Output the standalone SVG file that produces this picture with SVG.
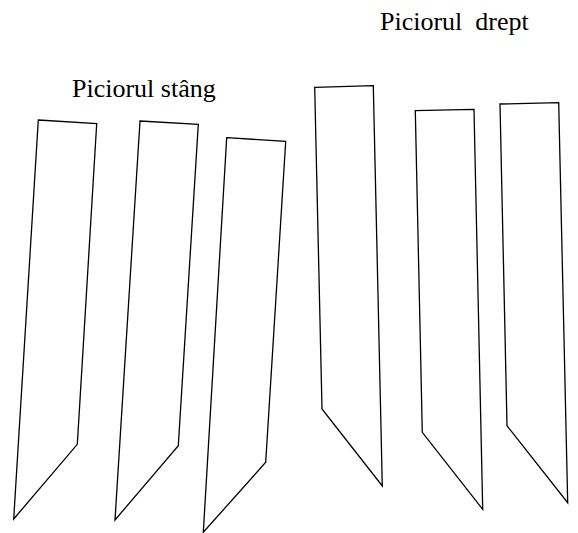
<svg xmlns="http://www.w3.org/2000/svg" width="578" height="533" viewBox="0 0 578 533">
<style>
.leg{fill:#fff;stroke:#000;stroke-width:1.3;stroke-linejoin:miter}
.lbl{font-family:"Liberation Serif","Times New Roman",serif;font-size:26px;fill:#000}
</style>
<rect width="578" height="533" fill="#fff"/>
<g id="label-stang"><text class="lbl" x="72" y="96.5">Piciorul stâng</text></g>
<g id="label-drept"><text class="lbl" x="380" y="29.5" xml:space="preserve">Piciorul  drept</text></g>
<g id="leg1"><polygon class="leg" points="38.3,120 96.7,123.7 77.3,444.3 13.7,519"/></g>
<g id="leg2"><polygon class="leg" points="140,121 198.3,124.3 178.3,445.7 115,520"/></g>
<g id="leg3"><polygon class="leg" points="226.7,137.7 285.7,141.3 265.7,462.3 203.3,532.3"/></g>
<g id="leg4"><polygon class="leg" points="314.7,87.3 373.3,85.7 382.3,486 322,409"/></g>
<g id="leg5"><polygon class="leg" points="415.3,110.7 474,109.3 482.7,509.3 422.3,432.3"/></g>
<g id="leg6"><polygon class="leg" points="500,104 558.7,102.7 567.7,502.7 507,425.7"/></g>
<g id="connectors"></g>
</svg>
